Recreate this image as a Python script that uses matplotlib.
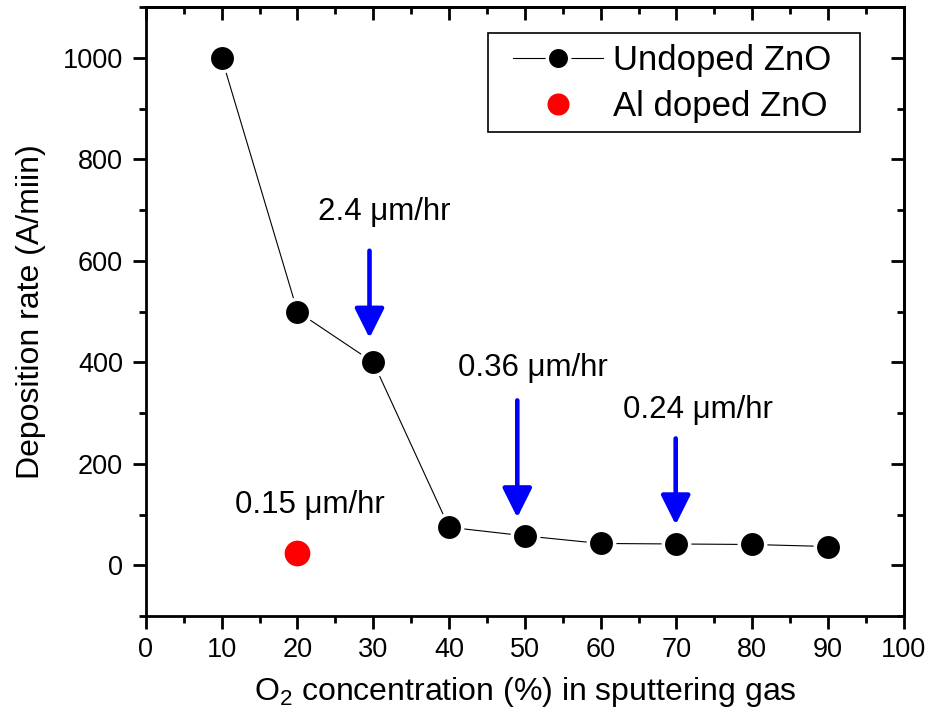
import matplotlib
matplotlib.use('Agg')
import matplotlib.pyplot as plt
from matplotlib.patches import Rectangle
from matplotlib.ticker import MultipleLocator

plt.rcParams['font.family'] = ['Liberation Sans', 'DejaVu Sans']
plt.rcParams['mathtext.fontset'] = 'custom'
plt.rcParams['mathtext.rm'] = 'Liberation Sans'
plt.rcParams['mathtext.it'] = 'Liberation Sans:italic'

# DATA
o2 = [10, 20, 30, 40, 50, 60, 70, 80, 90]
rate = [1000, 500, 400, 75, 58, 43, 42, 41, 37]
al_o2 = [20]
al_rate = [25]

# annotations : (text x, text y, arrow x, arrow top, arrow tip, label)
notes = [
    (31.5, 697, 29.5, 620, 448, '2.4 \u03bcm/hr'),
    (51.0, 389, 49.0, 325, 94, '0.36 \u03bcm/hr'),
    (72.8, 306, 69.9, 250, 80, '0.24 \u03bcm/hr'),
    (21.6, 118, None, None, None, '0.15 \u03bcm/hr'),
]

fig = plt.figure(figsize=(9.27, 7.21), dpi=100)
fig.patch.set_facecolor('white')
ax = fig.add_axes([0.1574, 0.1456, 0.9750 - 0.1574, 0.9900 - 0.1456])

ax.plot(o2, rate, color='black', lw=0.8, marker='o', ms=19,
        mfc='black', mec='white', mew=2.5, label='Undoped ZnO', zorder=3)
ax.plot(al_o2, al_rate, ls='none', marker='o', ms=17.5, mfc='red',
        mec='red', label='Al doped ZnO', zorder=3)

for tx, ty, ax_x, a_top, a_tip, lab in notes:
    ax.text(tx, ty, lab, fontsize=22.5, ha='center', va='center')
    if ax_x is not None:
        ax.annotate('', xy=(ax_x, a_tip), xytext=(ax_x, a_top),
                    arrowprops=dict(arrowstyle='-|>,head_length=1.8,head_width=0.9',
                                    color='blue', lw=3.3, shrinkA=0, shrinkB=0))

ax.set_xlim(0, 100)
ax.set_ylim(-100, 1100)
ax.xaxis.set_major_locator(MultipleLocator(10))
ax.xaxis.set_minor_locator(MultipleLocator(5))
ax.yaxis.set_major_locator(MultipleLocator(200))
ax.yaxis.set_minor_locator(MultipleLocator(100))

for s in ax.spines.values():
    s.set_linewidth(2)

ax.tick_params(which='both', labelsize=19.5, width=2, direction='out',
               top=False, right=False)
ax.tick_params(which='major', length=9.5)
ax.tick_params(which='minor', length=5)
ax.tick_params(axis='x', pad=5.5)
ax.tick_params(axis='y', pad=7)
# top / right ticks drawn inward
ax2 = ax.secondary_xaxis('top')
ax2.xaxis.set_major_locator(MultipleLocator(10))
ax2.xaxis.set_minor_locator(MultipleLocator(5))
ax2.tick_params(which='both', direction='in', width=2, labeltop=False)
ax2.tick_params(which='major', length=9.5)
ax2.tick_params(which='minor', length=5)
ax3 = ax.secondary_yaxis('right')
ax3.yaxis.set_major_locator(MultipleLocator(200))
ax3.yaxis.set_minor_locator(MultipleLocator(100))
ax3.tick_params(which='both', direction='in', width=2, labelright=False)
ax3.tick_params(which='major', length=9.5)
ax3.tick_params(which='minor', length=5)
for a in (ax2, ax3):
    for s in a.spines.values():
        s.set_linewidth(2)

ax.set_xlabel('O$_2$ concentration (%) in sputtering gas', fontsize=23, labelpad=9)
ax.set_ylabel('Deposition rate (A/miin)', fontsize=23, labelpad=12)

# legend box drawn separately (wider side padding than top/bottom)
ax.add_patch(Rectangle((0.4514, 0.795), 0.942 - 0.4514, 0.957 - 0.795,
                       transform=ax.transAxes, fill=True, facecolor='white',
                       edgecolor='black', lw=1.2, zorder=4))
leg = ax.legend(loc='upper left', bbox_to_anchor=(0.484, 0.9388), fontsize=25,
                frameon=False, handlelength=2.6, handletextpad=0.3,
                borderpad=0.0, labelspacing=0.36, borderaxespad=0.0,
                markerscale=0.85)
leg.set_zorder(5)

fig.savefig('out.png', dpi=100)
